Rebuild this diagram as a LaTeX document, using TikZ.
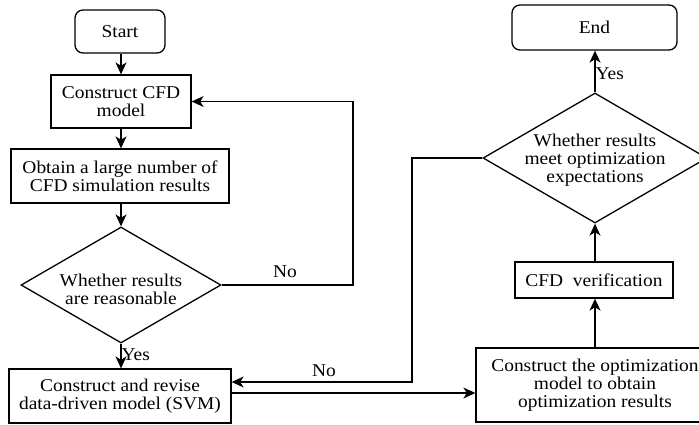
\documentclass[tikz,border=0pt]{standalone}
\usepackage{fontspec}
\setmainfont[FakeStretch=1.08]{Liberation Serif}
\usetikzlibrary{shapes.geometric,arrows.meta}
\begin{document}
\begin{tikzpicture}[x=1pt,y=-1pt,
  every node/.style={font=\fontsize{18}{18}\selectfont},
  line/.style={line width=1.3pt},
  arr/.style={line, -{Stealth[length=12pt,width=11pt,inset=3.5pt]}},
  proc/.style={draw, line width=1.3pt, rectangle, align=center, inner sep=0pt},
  term/.style={proc, rounded corners=8pt},
  dec/.style={draw, line width=1.3pt, diamond, inner sep=0pt},
  lbl/.style={inner sep=0pt}]
\clip (0,0) rectangle (699,424);
\fill[white] (0,0) rectangle (699,424);

% left column
\node[term, minimum width=90pt, minimum height=43pt] (start) at (120,31.5) {Start};
\node[proc, minimum width=140pt, minimum height=53pt] (cfd) at (121,101.5) {Construct CFD\\model};
\node[proc, minimum width=218pt, minimum height=54pt] (obtain) at (120,176) {Obtain a large number of\\CFD simulation results};
\node[dec, minimum width=200pt, minimum height=116pt] (d1) at (121,285) {};
\node[align=center, lbl] (d1t) at (121,289) {Whether results\\are reasonable};
\node[proc, minimum width=222pt, minimum height=54pt] (svm) at (120,396) {Construct and revise\\data-driven model (SVM)};

% right column
\node[term, minimum width=165pt, minimum height=45pt] (end) at (594.5,27.5) {End};
\node[dec, minimum width=224pt, minimum height=130pt] (d2) at (595,158) {};
\node[align=center, lbl] (d2t) at (595,160) {Whether results\\meet optimization\\expectations};
\node[proc, minimum width=158pt, minimum height=36pt] (ver) at (594,280) {CFD\ \ verification};
\node[proc, minimum width=238pt, minimum height=74pt] (opt) at (595,385) {Construct the optimization\\model to obtain\\optimization results};

% connectors
\draw[arr] (start.south -| 121,0) -- (cfd.north -| 121,0);
\draw[arr] (cfd.south -| 121,0) -- (obtain.north -| 121,0);
\draw[arr] (obtain.south -| 121,0) -- (d1.north);
\draw[arr] (d1.south) -- (svm.north -| d1.south)
  node[lbl, anchor=west, pos=0.45] (yes1) {Yes};
\coordinate (c1) at (353,285);
\coordinate (c2) at (353,101.5);
\draw[arr] (d1.east) -- (c1) -- (c2) -- (cfd.east);
\node[lbl] (no1) at (285,272) {No};

\draw[arr] (svm.east |- 0,393) -- (opt.west |- 0,393);
\draw[arr] (opt.north -| 595,0) -- (ver.south -| 595,0);
\draw[arr] (ver.north -| 595,0) -- (d2.south);
\draw[arr] (d2.north) -- (end.south -| d2.north)
  node[lbl, anchor=west, pos=0.45] (yes2) {Yes};
\coordinate (c3) at (412,158);
\coordinate (c4) at (412,382);
\draw[arr] (d2.west) -- (c3) -- (c4) -- (svm.east |- c4);
\node[lbl] (no2) at (324,371) {No};
\end{tikzpicture}
\end{document}
